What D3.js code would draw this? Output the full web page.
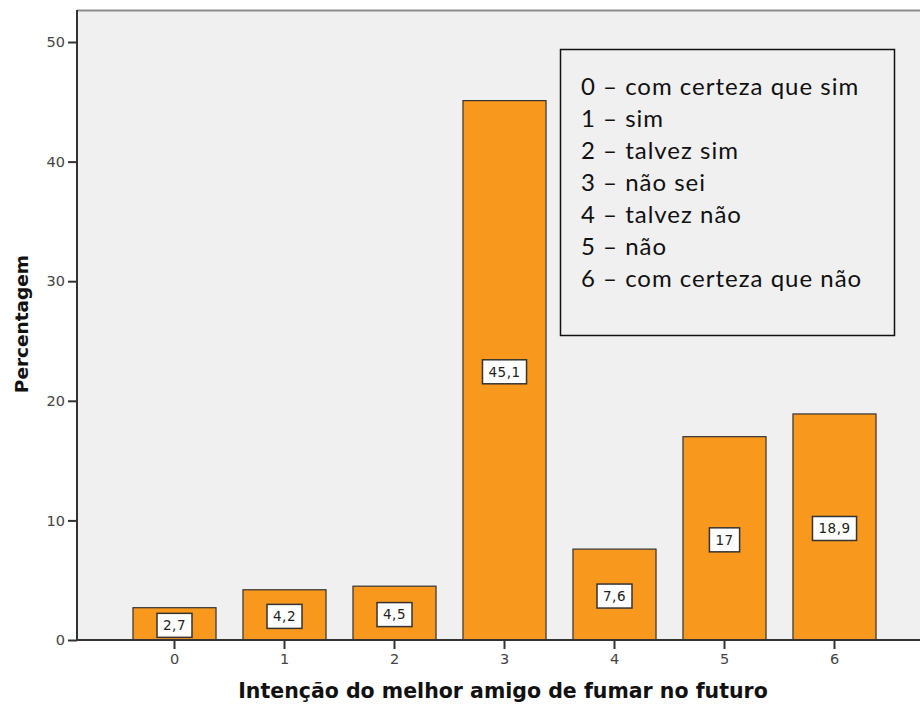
<!DOCTYPE html>
<html>
<head>
<meta charset="utf-8">
<script src="https://cdn.jsdelivr.net/npm/d3@7"></script>
<style>
  body { margin: 0; background: #fff; }
  svg { display: block; }
</style>
</head>
<body>
<svg id="chart" width="920" height="704"></svg>
<script>
const categories = ["0", "1", "2", "3", "4", "5", "6"];
const values = [2.7, 4.2, 4.5, 45.1, 7.6, 17, 18.9];
const yTicks = [0, 10, 20, 30, 40, 50];
const legendLines = [
  "0 – com certeza que sim",
  "1 – sim",
  "2 – talvez sim",
  "3 – não sei",
  "4 – talvez não",
  "5 – não",
  "6 – com certeza que não"
];

const plot = { left: 77, top: 10, right: 920, bottom: 640 };
const svg = d3.select("#chart");

// background of the plot area
svg.append("rect")
  .attr("x", plot.left).attr("y", plot.top)
  .attr("width", plot.right - plot.left).attr("height", plot.bottom - plot.top)
  .attr("fill", "#f0f0f0");

svg.append("line")
  .attr("x1", plot.left).attr("x2", plot.right)
  .attr("y1", plot.top + 0.5).attr("y2", plot.top + 0.5)
  .attr("stroke", "#8c8c8c").attr("stroke-width", 2);

const x = d3.scaleBand()
  .domain(categories)
  .range([119.5, 889.5])
  .paddingInner(0.245)
  .paddingOuter(0.1225);

const y = d3.scaleLinear()
  .domain([0, 50])
  .range([plot.bottom, 42]);

// bars
svg.append("g").selectAll("rect")
  .data(values)
  .join("rect")
  .attr("x", (d, i) => x(categories[i]))
  .attr("y", d => y(d))
  .attr("width", x.bandwidth())
  .attr("height", d => y(0) - y(d))
  .attr("fill", "#f8991d")
  .attr("stroke", "#333")
  .attr("stroke-width", 1.2);

// value labels
const fmt = v => String(v).replace(".", ",");
const labels = svg.append("g").selectAll("g")
  .data(values)
  .join("g")
  .attr("transform", (d, i) => `translate(${x(categories[i]) + x.bandwidth() / 2},${(y(d) + y(0)) / 2 + 1.5})`);

labels.append("rect").attr("class", "lbox");
labels.append("text")
  .text(d => fmt(d))
  .attr("text-anchor", "middle")
  .attr("dy", "0.36em")
  .style("font-family", "DejaVu Sans")
  .style("font-size", "13.5px")
  .style("letter-spacing", "0.5px")
  .attr("fill", "#222");
labels.each(function () {
  const g = d3.select(this);
  const w = g.select("text").node().getComputedTextLength();
  g.select("rect")
    .attr("x", -w / 2 - 6).attr("y", -12)
    .attr("width", w + 12).attr("height", 24)
    .attr("fill", "#fff").attr("stroke", "#333").attr("stroke-width", 1.5);
});

// axes
const yAxis = svg.append("g")
  .attr("transform", `translate(${plot.left},0)`)
  .call(d3.axisLeft(y).tickValues(yTicks).tickSize(9).tickPadding(3));
yAxis.select(".domain").attr("d", `M0,${plot.top}V${plot.bottom}`).attr("stroke", "#333").attr("stroke-width", 2);

const xAxis = svg.append("g")
  .attr("transform", `translate(0,${plot.bottom})`)
  .call(d3.axisBottom(x).tickSize(9).tickPadding(5));
xAxis.select(".domain").attr("d", `M${plot.left},0H${plot.right}`).attr("stroke", "#333").attr("stroke-width", 2);

svg.selectAll(".tick line").attr("stroke", "#333").attr("stroke-width", 2);
svg.selectAll(".tick text")
  .style("font-family", "DejaVu Sans")
  .style("font-size", "14.5px")
  .attr("fill", "#444");

// axis titles
svg.append("text")
  .attr("x", 503).attr("y", 698)
  .attr("text-anchor", "middle")
  .style("font-family", "DejaVu Sans")
  .style("font-weight", "bold")
  .style("font-size", "20.5px")
  .attr("fill", "#111")
  .text("Intenção do melhor amigo de fumar no futuro");

svg.append("text")
  .attr("transform", "translate(28,324) rotate(-90)")
  .attr("text-anchor", "middle")
  .style("font-family", "DejaVu Sans")
  .style("font-weight", "bold")
  .style("font-size", "18.5px")
  .attr("fill", "#111")
  .text("Percentagem");

// legend box
const legend = svg.append("g");
legend.append("rect")
  .attr("x", 560.5).attr("y", 49.5)
  .attr("width", 334).attr("height", 286)
  .attr("fill", "#f0f0f0").attr("stroke", "#111").attr("stroke-width", 1.5);
legend.selectAll("text")
  .data(legendLines)
  .join("text")
  .attr("x", 581)
  .attr("y", (d, i) => 95 + i * 32)
  .style("font-family", "Lato")
  .style("font-size", "24px")
  .style("letter-spacing", "1px")
  .attr("fill", "#111")
  .text(d => d);
</script>
</body>
</html>
